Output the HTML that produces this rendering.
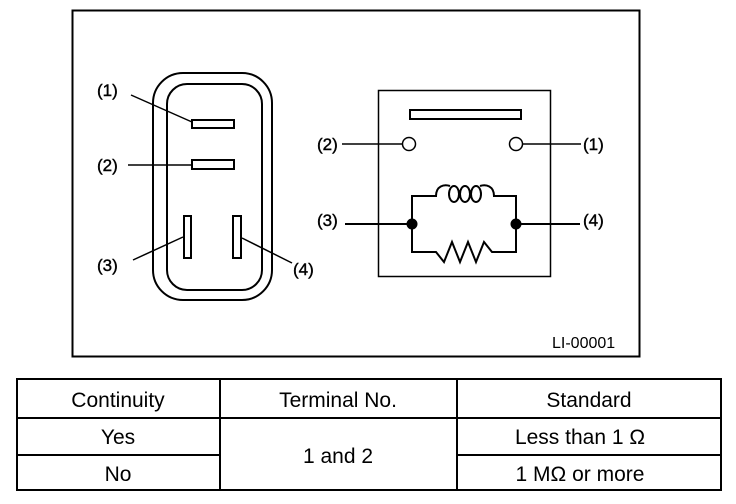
<!DOCTYPE html>
<html><head><meta charset="utf-8"><style>
html,body{margin:0;padding:0;background:#fff;}
body{width:736px;height:504px;overflow:hidden;position:relative;}
svg{position:absolute;left:0;top:0;}
</style></head><body>
<svg width="736" height="504" viewBox="0 0 736 504" font-family="Liberation Sans, sans-serif" fill="none" stroke="#000">
<rect x="72.5" y="10.5" width="567" height="346" stroke-width="2"/>
<rect x="153" y="73" width="119" height="227" rx="30" stroke-width="2"/>
<rect x="167" y="84" width="95" height="206" rx="20" stroke-width="2"/>
<rect x="192" y="120" width="42" height="8" stroke-width="2"/>
<rect x="192" y="160" width="42" height="9" stroke-width="2"/>
<rect x="184" y="216" width="7" height="42" stroke-width="2"/>
<rect x="233" y="216" width="8" height="42" stroke-width="2"/>
<line x1="131" y1="95" x2="192" y2="122" stroke-width="1.5"/>
<line x1="128" y1="165" x2="192" y2="165" stroke-width="1.5"/>
<line x1="133" y1="260" x2="183" y2="237" stroke-width="1.5"/>
<line x1="242" y1="238" x2="292" y2="263" stroke-width="1.5"/>
<g fill="#000" stroke="#000" stroke-width="0.4" font-size="17">
<text x="97" y="96">(1)</text>
<text x="97" y="171">(2)</text>
<text x="97" y="271">(3)</text>
<text x="293" y="275">(4)</text>
<text x="317" y="150">(2)</text>
<text x="583" y="150">(1)</text>
<text x="317" y="226">(3)</text>
<text x="583" y="226">(4)</text>
</g>
<text x="552" y="348" font-size="16" fill="#000" stroke="none">LI-00001</text>
<rect x="378.5" y="90.5" width="172" height="186" stroke-width="1.5"/>
<rect x="410" y="110" width="111" height="9" stroke-width="2"/>
<circle cx="409" cy="144" r="6.5" stroke-width="1.5"/>
<circle cx="516" cy="144" r="6.5" stroke-width="1.5"/>
<line x1="342" y1="144" x2="402" y2="144" stroke-width="1.5"/>
<line x1="523" y1="144" x2="581" y2="144" stroke-width="1.5"/>
<line x1="345" y1="224" x2="412" y2="224" stroke-width="2"/>
<line x1="516" y1="224" x2="580" y2="224" stroke-width="2"/>
<path d="M412 224 V196 H436 C436 186 444 184 450 186 M480 186 C486 184 494 186 494 196 H516 V224" stroke-width="2"/>
<ellipse cx="454" cy="194" rx="5" ry="8" stroke-width="2"/>
<ellipse cx="465" cy="194" rx="5" ry="8" stroke-width="2"/>
<ellipse cx="476" cy="194" rx="5" ry="8" stroke-width="2"/>
<path d="M412 224 V252 H436 L444 262 L452 242 L460 262 L468 242 L476 262 L484 242 L492 252 H516 V224" stroke-width="2"/>
<circle cx="412" cy="224" r="5" fill="#000"/>
<circle cx="516" cy="224" r="5" fill="#000"/>
<rect x="17" y="379" width="704" height="111" stroke-width="2"/>
<line x1="17" y1="418" x2="721" y2="418" stroke-width="2"/>
<line x1="17" y1="455" x2="220" y2="455" stroke-width="2"/>
<line x1="457" y1="455" x2="721" y2="455" stroke-width="2"/>
<line x1="220" y1="379" x2="220" y2="490" stroke-width="2"/>
<line x1="457" y1="379" x2="457" y2="490" stroke-width="2"/>
<g fill="#000" stroke="none" font-size="21" text-anchor="middle">
<text x="118" y="407">Continuity</text>
<text x="338" y="407">Terminal No.</text>
<text x="589" y="407">Standard</text>
<text x="118" y="444">Yes</text>
<text x="118" y="481">No</text>
<text x="338" y="463">1 and 2</text>
<text x="580" y="444">Less than 1 Ω</text>
<text x="580" y="481">1 MΩ or more</text>
</g>
</svg>
</body></html>
